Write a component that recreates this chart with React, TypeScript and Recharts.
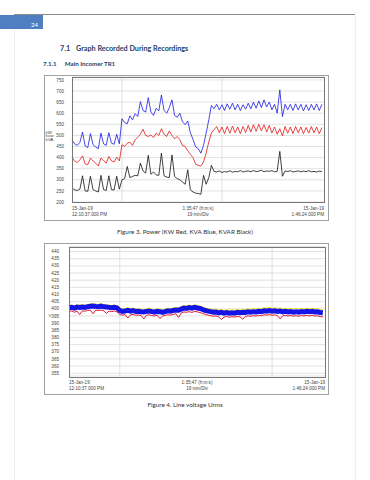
import { LineChart, Line, XAxis, YAxis, CartesianGrid, ReferenceLine } from 'recharts';

// time axis (minutes from 12:10:37 PM), one sample per minute
const xTickValues = [0, 47.9, 95.8];
const xTickTop = ['15-Jan-19', '1:35:47 (h:m:s)', '15-Jan-19'];
const xTickBottom = ['12:10:37.000 PM', '19 min/Div', '1:46:24.000 PM'];

// Figure 3 - power
const powerTicks = [200, 250, 300, 350, 400, 450, 500, 550, 600, 650, 700, 750];
const kva = [
  480, 462, 455, 468, 515, 452, 445, 508, 458, 448, 440, 510, 462, 455, 512, 465, 460, 505, 462,
  575, 558, 552, 588, 570, 598, 585, 652, 612, 605, 670, 605, 590, 622, 610, 682, 612, 600, 625, 660,
  590, 582, 600, 562, 548, 565, 512, 482, 448, 440, 420, 455, 510, 570, 635,
  620, 640, 615, 638, 612, 642, 618, 645, 615, 640, 612, 638, 618, 645, 620, 650, 622, 655, 625, 660,
  628, 650, 615, 640, 600, 705, 585, 640, 615, 640, 612, 642, 615, 640, 610, 638, 612, 640, 615, 642,
  612, 640,
];
const kw = [
  402, 385, 378, 390, 408, 372, 368, 398, 385, 375, 362, 398, 386, 375, 405, 385, 380, 402, 385,
  458, 450, 465, 470, 455, 480, 492, 505, 528, 500, 495, 502, 490, 510, 500, 530, 505, 495, 520, 500,
  485, 495, 480, 455, 450, 430, 415, 400, 370, 365, 362, 380, 420, 470, 512,
  525, 540, 512, 538, 508, 540, 510, 542, 512, 538, 508, 540, 512, 545, 515, 548, 518, 550, 520, 548,
  515, 545, 510, 538, 505, 530, 498, 540, 510, 538, 508, 540, 512, 538, 508, 536, 510, 540, 512, 538,
  508, 535,
];
const kvar = [
  262, 255, 252, 258, 318, 250, 248, 316, 256, 250, 245, 320, 256, 252, 318, 256, 254, 316, 258,
  300, 305, 360, 310, 315, 320, 318, 375, 340, 330, 410, 325, 335, 322, 320, 420, 318, 312, 310, 412,
  315, 305, 300, 290, 280, 345, 255, 245, 240, 238, 235, 320, 280, 310, 365,
  338, 335, 340, 333, 337, 335, 341, 334, 338, 336, 342, 335, 338, 340, 336, 342, 337, 339, 343, 336,
  340, 338, 341, 336, 338, 428, 316, 340, 337, 341, 335, 338, 340, 336, 339, 337, 341, 336, 338, 335,
  339, 337,
];

// Figure 4 - line voltage
const voltTicks = [355, 360, 365, 370, 375, 380, 385, 390, 395, 400, 405, 410, 415, 420, 425, 430, 435, 440];
const voltBlue = [
  400.8, 401.0, 400.5, 401.2, 400.9, 401.3, 401.0, 401.5, 401.8, 402.0, 401.7, 401.5, 401.9, 401.4, 401.2, 401.0, 400.8, 401.1, 400.6,
  398.8, 398.2, 398.5, 399.0, 398.4, 398.8, 398.1, 398.3, 398.0, 397.8, 398.2, 398.5, 398.0, 397.6, 398.2, 398.0, 397.5, 398.1, 398.6,
  398.3, 398.9, 399.2, 399.0, 399.8, 400.5, 400.3, 400.8, 400.4, 401.0, 400.6, 400.2, 399.5, 398.8, 398.4, 398.0,
  397.6, 397.8, 397.2, 397.5, 397.0, 397.4, 396.9, 397.3, 397.0, 397.5, 397.2, 397.6, 397.4, 397.9, 397.6, 398.0, 397.8, 398.3,
  398.0, 398.6, 398.4, 398.8, 398.3, 398.6, 398.1, 398.4, 397.9, 398.2, 397.8, 398.1, 397.7, 398.0, 397.6, 398.1, 397.8, 398.2,
  397.9, 398.3, 397.8, 397.9, 397.4, 397.2,
];
const voltRed = [
  398.2, 398.5, 397.6, 398.4, 396.0, 398.6, 398.3, 398.9, 399.0, 396.5, 399.1, 398.8, 399.2, 398.5, 396.8, 398.4, 398.0, 398.5, 397.8,
  396.0, 395.6, 395.9, 393.5, 395.8, 396.1, 395.5, 395.7, 395.3, 393.0, 395.6, 395.8, 395.3, 395.0, 395.5, 393.2, 394.9, 395.4, 395.9,
  395.6, 396.2, 396.5, 394.0, 397.1, 397.8, 397.6, 398.0, 397.5, 398.2, 397.9, 397.4, 396.8, 396.0, 395.6, 395.2,
  394.8, 395.0, 394.4, 392.5, 394.2, 394.6, 394.1, 394.5, 394.2, 394.7, 394.4, 392.8, 394.6, 395.1, 394.8, 395.2, 395.0, 395.5,
  395.2, 395.8, 395.6, 396.0, 395.5, 395.8, 395.3, 393.0, 395.1, 395.4, 395.0, 395.3, 394.9, 395.2, 394.8, 395.3, 395.0, 395.4,
  395.1, 395.5, 395.0, 395.1, 394.6, 394.4,
];
const voltYellow = [
  402.4, 402.6, 402.2, 402.8, 402.5, 402.9, 402.6, 403.1, 403.4, 403.5, 403.3, 403.1, 403.5, 403.0, 402.8, 402.6, 402.4, 402.7, 402.2,
  400.6, 400.0, 400.3, 400.8, 400.2, 400.6, 399.9, 400.1, 399.8, 399.6, 400.0, 400.3, 399.8, 399.4, 400.0, 399.8, 399.3, 399.9, 400.4,
  400.1, 400.7, 401.0, 400.8, 401.6, 402.3, 402.1, 402.6, 402.2, 402.8, 402.4, 402.0, 401.3, 400.6, 400.2, 399.8,
  399.6, 399.8, 399.2, 399.5, 399.0, 399.4, 398.9, 399.3, 399.0, 399.5, 399.2, 399.6, 399.4, 400.1, 399.8, 400.2, 400.0, 400.5,
  400.2, 400.8, 400.6, 401.0, 400.5, 400.8, 400.3, 400.6, 400.1, 400.4, 400.0, 400.3, 399.9, 400.2, 399.8, 400.3, 400.0, 400.4,
  400.1, 400.5, 400.0, 400.1, 399.6, 399.4,
];

const powerData = kva.map((v, i) => ({ min: i, kva: v, kw: kw[i], kvar: kvar[i] }));
const voltData = voltBlue.map((v, i) => ({ min: i, blue: v, red: voltRed[i], yellow: voltYellow[i] }));

const tickFont = 'Liberation Sans, Arial, sans-serif';
const docFont = 'Lato, sans-serif';
const gridColor = '#d9d9d9';

function TimeTick(props: any) {
  const { x, y, index } = props;
  const anchor = index === 0 ? 'start' : index === 1 ? 'middle' : 'end';
  return (
    <text x={x} y={y} textAnchor={anchor} fontSize={4.6} fill="#444" fontFamily={tickFont}>
      <tspan x={x} dy={7.5}>{xTickTop[index]}</tspan>
      <tspan x={x} dy={6}>{xTickBottom[index]}</tspan>
    </text>
  );
}

const abs = (left: number, top: number, extra: any = {}) => ({ position: 'absolute' as const, left, top, ...extra });

export default function App() {
  return (
    <div style={abs(0, 0, { width: 370, height: 480, background: '#fff', fontFamily: docFont, overflow: 'hidden' })}>
      {/* page furniture */}
      <div style={abs(14, 15, { width: 1, height: 465, background: '#efefef' })} />
      <div style={abs(355, 15, { width: 1, height: 465, background: '#efefef' })} />
      <div style={abs(14, 14, { width: 341, height: 1, background: '#8a8a8a' })} />
      <div style={abs(0, 15, { width: 43, height: 14, background: '#4f7fc1' })} />
      <div style={abs(31, 21, { fontSize: 6, color: '#fff', lineHeight: '7px' })}>24</div>

      <div style={abs(60, 44, { fontSize: 7.2, fontWeight: 700, color: '#243f66', lineHeight: '9px', whiteSpace: 'nowrap' })}>
        7.1<span style={{ marginLeft: 6 }}>Graph Recorded During Recordings</span>
      </div>
      <div style={abs(43, 60, { fontSize: 6.2, fontWeight: 700, color: '#243f66', lineHeight: '8px', whiteSpace: 'nowrap' })}>
        7.1.1<span style={{ marginLeft: 8 }}>Main Incomer TR1</span>
      </div>

      {/* Figure 3 */}
      <div style={abs(44, 75, { width: 283, height: 144, border: '1px solid #a0a0a0' })} />
      <div style={abs(45.5, 130.5, { fontSize: 4.4, lineHeight: '3.8px', color: '#444', fontFamily: tickFont })}>
        kW<br />kvar<br />kVA
      </div>
      <div style={abs(44, 75)}>
        <LineChart width={284} height={145} data={powerData} margin={{ top: 2, right: 4, bottom: 2, left: 0 }}>
          <CartesianGrid vertical={false} stroke={gridColor} strokeWidth={0.8} />
          <XAxis dataKey="min" type="number" domain={[0, 95.8]} ticks={xTickValues} interval={0}
            axisLine={false} tickLine={false} tickSize={0} tickMargin={0} height={16} tick={<TimeTick />} />
          <YAxis type="number" domain={[200, 763]} ticks={powerTicks} interval={0} width={28}
            axisLine={false} tickLine={false} tickMargin={2}
            tick={{ fontSize: 4.6, fill: '#444', fontFamily: tickFont }} />
          <ReferenceLine x={19} stroke={gridColor} strokeWidth={0.8} />
          <ReferenceLine x={57} stroke={gridColor} strokeWidth={0.8} />
          <Line type="linear" dataKey="kvar" stroke="#111111" strokeWidth={0.8} dot={false} isAnimationActive={false} />
          <Line type="linear" dataKey="kw" stroke="#e01818" strokeWidth={0.8} dot={false} isAnimationActive={false} />
          <Line type="linear" dataKey="kva" stroke="#1a1ae0" strokeWidth={0.8} dot={false} isAnimationActive={false} />
        </LineChart>
      </div>
      <div style={abs(72, 77, { width: 251, height: 124, border: '1px solid #777' })} />
      <div style={abs(0, 228, { width: 370, textAlign: 'center', fontSize: 6.3, color: '#333', lineHeight: '8px' })}>
        Figure 3. Power (KW Red, KVA Blue, KVAR Black)
      </div>

      {/* Figure 4 */}
      <div style={abs(44, 243, { width: 283, height: 150, border: '1px solid #a0a0a0' })} />
      <div style={abs(48.5, 312.5, { fontSize: 4.4, color: '#444', fontFamily: tickFont, lineHeight: '5px' })}>V</div>
      <div style={abs(44, 243)}>
        <LineChart width={284} height={151} data={voltData} margin={{ top: 3.5, right: 3, bottom: 2, left: 0 }}>
          <CartesianGrid vertical={false} stroke={gridColor} strokeWidth={0.8} />
          <XAxis dataKey="min" type="number" domain={[0, 95.8]} ticks={xTickValues} interval={0}
            axisLine={false} tickLine={false} tickSize={0} tickMargin={0} height={16} tick={<TimeTick />} />
          <YAxis type="number" domain={[353.1, 443.5]} ticks={voltTicks} interval={0} width={25}
            axisLine={false} tickLine={false} tickMargin={4}
            tick={{ fontSize: 4.6, fill: '#444', fontFamily: tickFont }} />
          <ReferenceLine x={19} stroke={gridColor} strokeWidth={0.8} />
          <ReferenceLine x={76} stroke={gridColor} strokeWidth={0.8} />
          <Line type="linear" dataKey="yellow" stroke="#f0e800" strokeWidth={0.9} dot={false} isAnimationActive={false} />
          <Line type="linear" dataKey="blue" stroke="#1414e6" strokeWidth={5} dot={false} isAnimationActive={false} />
          <Line type="linear" dataKey="red" stroke="#e01830" strokeWidth={1} dot={false} isAnimationActive={false} />
        </LineChart>
      </div>
      <div style={abs(69, 246.5, { width: 255, height: 129, border: '1px solid #777' })} />
      <div style={abs(0, 401, { width: 370, textAlign: 'center', fontSize: 6.3, color: '#333', lineHeight: '8px' })}>
        Figure 4. Line voltage Urms
      </div>
    </div>
  );
}
